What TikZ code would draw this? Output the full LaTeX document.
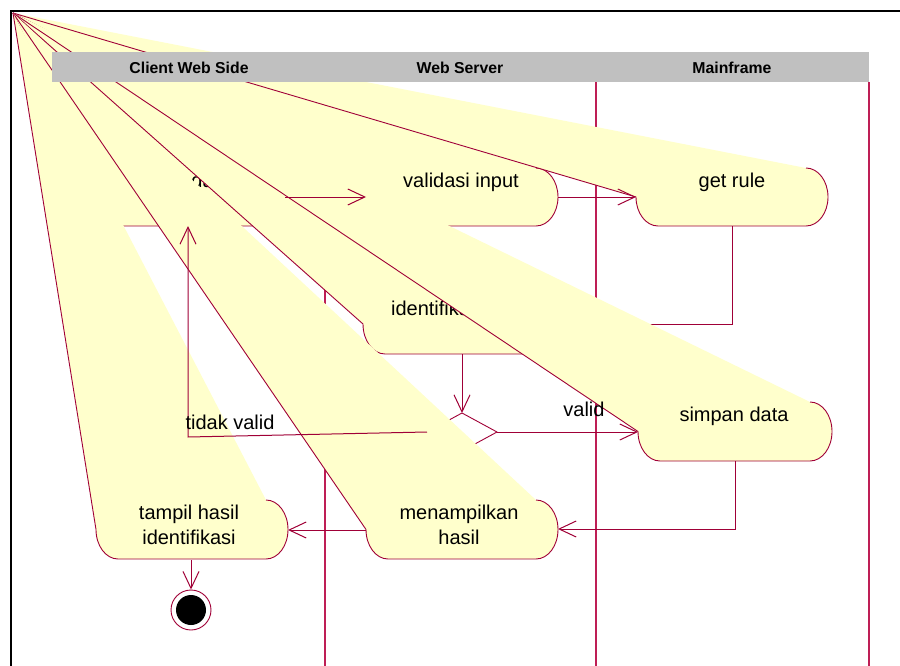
\documentclass[tikz,border=0pt]{standalone}
\usepackage{fontspec}
\setmainfont{Liberation Sans}
\usetikzlibrary{arrows.meta}
\definecolor{actyellow}{RGB}{255,255,204}
\definecolor{actred}{RGB}{160,0,55}
\definecolor{lanered}{RGB}{190,30,85}
\definecolor{hdrgray}{RGB}{192,192,192}
\tikzset{
  actfill/.style={fill=actyellow},
  actline/.style={draw=actred,line width=0.9pt,line join=round},
  acttext/.style={font=\fontsize{20}{25}\selectfont,align=center,inner sep=0pt},
  trans/.style={draw=actred,line width=1pt,-{Straight Barb[length=17pt,width=16pt]}},
  lane/.style={draw=lanered,line width=1.6pt},
  hdrtext/.style={font=\fontsize{15.8}{17}\selectfont\bfseries,inner sep=0pt},
  lbl/.style={font=\fontsize{20}{24}\selectfont,inner sep=0pt},
}
% glitched activity shape: L R top bottom
\newcommand\actshape[4]{%
  \pgfmathsetmacro\acthh{(#4-#3)/2}%
  \fill[actfill] (#2-22,#3) arc[start angle=-90,end angle=90,x radius=22,y radius=\acthh]
     -- (#1+22,#4) arc[start angle=90,end angle=180,x radius=22,y radius=\acthh] -- (o) -- cycle;
  \draw[actline] (#2-22,#3) arc[start angle=-90,end angle=90,x radius=22,y radius=\acthh]
     -- (#1+22,#4) arc[start angle=90,end angle=180,x radius=22,y radius=\acthh] -- (o);
}
\begin{document}
\begin{tikzpicture}[x=1pt,y=-1pt]
\useasboundingbox (0,0) rectangle (900,666);
\fill[white] (0,0) rectangle (900,666);
\coordinate (o) at (13,13);

% swimlane dividers
\coordinate (l1t) at (325,82); \coordinate (l1b) at (325,666);
\coordinate (l2t) at (596,82); \coordinate (l2b) at (596,666);
\coordinate (l3t) at (869,82); \coordinate (l3b) at (869,666);
\draw[lane] (l1t) -- (l1b);
\draw[lane] (l2t) -- (l2b);
\draw[lane] (l3t) -- (l3b);

% A
\actshape{100}{285}{168}{226}
\node[acttext] (A) at (192,180) {Get data};
\coordinate (A-e) at (285,197);
\coordinate (A-s) at (188,226);

% validasi input
\actshape{366}{558}{168}{226}
\node[acttext] (V) at (461,182) {validasi input};
\coordinate (V-w) at (366,197);
\coordinate (V-e) at (558,197);

% get rule
\actshape{636}{828}{168}{226}
\node[acttext] (G) at (732,182) {get rule};
\coordinate (G-w) at (636,197);
\coordinate (G-s) at (732,226);

% identifikasi
\actshape{363}{558}{294}{354}
\node[acttext] (I) at (460,308.5) {identifikasi data};
\coordinate (I-e) at (558,324);
\coordinate (I-s) at (462,354);

\draw[trans] (G-s) |- (I-e);

% decision
\coordinate (D-n) at (462,413);
\coordinate (D-e) at (497,432);
\coordinate (D-s) at (462,451);
\coordinate (D-w) at (427,432);
\draw[actline] (D-n) -- (D-e) -- (D-s) -- (D-w) -- cycle;

% simpan data
\actshape{638}{832}{402}{461}
\node[acttext] (S) at (734,416) {simpan data};
\coordinate (S-w) at (638,432);
\coordinate (S-s) at (735,461);

% menampilkan hasil
\actshape{366}{558}{500}{559}
\node[acttext] (M) at (459,525) {menampilkan\\hasil};
\coordinate (M-w) at (366,530);
\coordinate (M-e) at (558,529);

% tampil hasil identifikasi
\actshape{96}{288}{500}{559}
\node[acttext] (T) at (189,525) {tampil hasil\\identifikasi};
\coordinate (T-e) at (288,530);
\coordinate (T-s) at (191,560);

% final state
\node[circle,draw=actred,line width=0.9pt,fill=white,minimum size=40pt,inner sep=0pt] (F) at (191,610) {};
\fill[black] (F.center) circle (15);

% transitions
\coordinate (DA-bend) at (188,437);
\draw[trans] (A-e) -- (V-w);
\draw[trans] (V-e) -- (G-w);
\draw[trans] (I-s) -- (D-n);
\draw[trans] (D-e) -- (S-w);
\draw[trans] (D-w) -- (DA-bend) -- (A-s);
\draw[trans] (S-s) |- (M-e);
\draw[trans] (M-w) -- (T-e);
\draw[trans] (T-s) -- (F.north);

\node[lbl] (lv) at (584,409) {valid};
\node[lbl] (ltv) at (230,422) {tidak valid};

% header
\fill[hdrgray] (52,52) rectangle (869,82);
\node[hdrtext] (h1) at (189,67.5) {Client Web Side};
\node[hdrtext] (h2) at (460,67.5) {Web Server};
\node[hdrtext] (h3) at (732,67.5) {Mainframe};

% frame
\draw[line width=2.6pt] (11,666) -- (11,11) -- (900,11);
\end{tikzpicture}
\end{document}
